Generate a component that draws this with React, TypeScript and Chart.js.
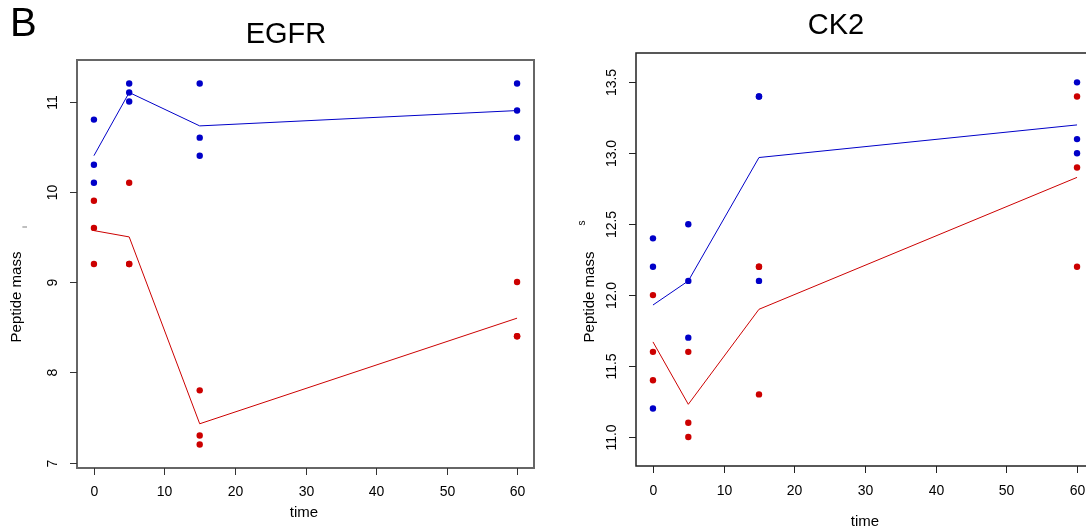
import React, { useEffect, useRef } from "react";
import { Chart, registerables } from "chart.js";

Chart.register(...registerables);

// ---------- data ----------
const timeCategories = [0, 5, 15, 60];
const replicateTimes = [0, 0, 0, 5, 5, 5, 15, 15, 15, 60, 60, 60];
const xTickValues = [0, 10, 20, 30, 40, 50, 60];

const egfrBlueValues = [10.8, 10.3, 10.1, 11.2, 11.1, 11.0, 11.2, 10.6, 10.4, 11.2, 10.9, 10.6];
const egfrRedValues = [9.9, 9.6, 9.2, 10.1, 9.2, 9.2, 7.8, 7.3, 7.2, 9.0, 8.4, 8.4];
const egfrBlueMeans = [10.4, 11.1, 10.73, 10.9];
const egfrRedMeans = [9.57, 9.5, 7.43, 8.6];
const egfrYTicks = [7, 8, 9, 10, 11];
const egfrYTickLabels = ["7", "8", "9", "10", "11"];

const ck2BlueValues = [12.4, 12.2, 11.2, 12.5, 12.1, 11.7, 13.4, 13.4, 12.1, 13.5, 13.1, 13.0];
const ck2RedValues = [12.0, 11.6, 11.4, 11.6, 11.1, 11.0, 12.2, 12.2, 11.3, 13.4, 12.9, 12.2];
const ck2BlueMeans = [11.93, 12.1, 12.97, 13.2];
const ck2RedMeans = [11.67, 11.23, 11.9, 12.83];
const ck2YTicks = [11.0, 11.5, 12.0, 12.5, 13.0, 13.5];
const ck2YTickLabels = ["11.0", "11.5", "12.0", "12.5", "13.0", "13.5"];

const BLUE = "#0000c8";
const RED = "#cc0000";
const FONT = '"Liberation Sans", Arial, Helvetica, sans-serif';

const rPlotPlugin = {
  id: "rPlot",
  afterDraw(chart: any, _args: any, opts: any) {
    const ctx = chart.ctx as CanvasRenderingContext2D;
    const area = chart.chartArea;
    const xs = chart.scales.x;
    const ys = chart.scales.y;
    ctx.save();
    // frame
    ctx.strokeStyle = opts.frameColor;
    ctx.lineWidth = opts.frameWidth;
    ctx.strokeRect(area.left, area.top, area.right - area.left, area.bottom - area.top);
    // ticks
    ctx.lineWidth = 1;
    ctx.strokeStyle = opts.tickColor;
    ctx.fillStyle = "#000";
    ctx.font = `14px ${FONT}`;
    ctx.textAlign = "center";
    ctx.textBaseline = "middle";
    opts.xTicks.forEach((v: number) => {
      const px = Math.round(xs.getPixelForValue(v)) + 0.5;
      ctx.beginPath();
      ctx.moveTo(px, area.bottom);
      ctx.lineTo(px, area.bottom + 7);
      ctx.stroke();
      ctx.fillText(String(v), px, area.bottom + opts.xLabelOffset);
    });
    opts.yTicks.forEach((v: number, i: number) => {
      const py = Math.round(ys.getPixelForValue(v)) + 0.5;
      ctx.beginPath();
      ctx.moveTo(area.left, py);
      ctx.lineTo(area.left - 7, py);
      ctx.stroke();
      ctx.save();
      ctx.translate(area.left - 24, py);
      ctx.rotate(-Math.PI / 2);
      ctx.fillText(opts.yLabels[i], 0, 0);
      ctx.restore();
    });
    // titles
    ctx.font = `29px ${FONT}`;
    ctx.fillText(opts.title, opts.titleX, opts.titleY);
    ctx.font = `15px ${FONT}`;
    ctx.fillText("time", opts.xTitleX, opts.xTitleY);
    ctx.save();
    ctx.translate(opts.yTitleX, opts.yTitleY);
    ctx.rotate(-Math.PI / 2);
    ctx.fillText("Peptide mass", 0, 0);
    ctx.restore();
    if (opts.mark) {
      ctx.save();
      ctx.font = `${opts.mark.size}px ${FONT}`;
      ctx.translate(opts.mark.x, opts.mark.y);
      ctx.rotate(-Math.PI / 2);
      ctx.fillText(opts.mark.text, 0, 0);
      ctx.restore();
    }
    ctx.restore();
  },
};

function makeConfig(
  blue: number[],
  red: number[],
  blueMeans: number[],
  redMeans: number[],
  yMin: number,
  yMax: number,
  padding: any,
  deco: any
): any {
  const pts = (vals: number[]) => vals.map((v, i) => ({ x: replicateTimes[i], y: v }));
  const line = (vals: number[]) => vals.map((v, i) => ({ x: timeCategories[i], y: v }));
  return {
    type: "scatter",
    data: {
      datasets: [
        { data: line(blueMeans), showLine: true, borderColor: BLUE, borderWidth: 1, pointRadius: 0, tension: 0 },
        { data: line(redMeans), showLine: true, borderColor: RED, borderWidth: 1, pointRadius: 0, tension: 0 },
        { data: pts(blue), pointRadius: 3.2, backgroundColor: BLUE, borderWidth: 0 },
        { data: pts(red), pointRadius: 3.2, backgroundColor: RED, borderWidth: 0 },
      ],
    },
    options: {
      responsive: false,
      animation: false,
      layout: { padding },
      scales: {
        x: { type: "linear", min: -2.4, max: 62.4, display: false },
        y: { type: "linear", min: yMin, max: yMax, display: false },
      },
      plugins: {
        legend: { display: false },
        tooltip: { enabled: false },
        rPlot: deco,
      },
    },
    plugins: [rPlotPlugin],
  };
}

function ChartCanvas({ config, left }: { config: any; left: number }) {
  const ref = useRef<HTMLCanvasElement>(null);
  useEffect(() => {
    const chart = new Chart(ref.current as HTMLCanvasElement, config);
    return () => chart.destroy();
  }, []);
  return (
    <canvas
      ref={ref}
      width={560}
      height={529}
      style={{ position: "absolute", left, top: 0, width: 560, height: 529 }}
    />
  );
}

export default function App() {
  const egfr = makeConfig(
    egfrBlueValues,
    egfrRedValues,
    egfrBlueMeans,
    egfrRedMeans,
    6.94,
    11.46,
    { left: 77, top: 60, right: 26, bottom: 61 },
    {
      title: "EGFR",
      titleX: 286,
      titleY: 35,
      xTitleX: 304,
      xTitleY: 513,
      yTitleX: 16.5,
      yTitleY: 297,
      xTicks: xTickValues,
      yTicks: egfrYTicks,
      yLabels: egfrYTickLabels,
      xLabelOffset: 24,
      frameColor: "#666",
      frameWidth: 2,
      tickColor: "#333",
      mark: { text: "i", x: 25, y: 227, size: 7 },
    }
  );
  const ck2 = makeConfig(
    ck2BlueValues,
    ck2RedValues,
    ck2BlueMeans,
    ck2RedMeans,
    10.795,
    13.707,
    { left: 76, top: 53, right: 26, bottom: 63 },
    {
      title: "CK2",
      titleX: 276,
      titleY: 26,
      xTitleX: 305,
      xTitleY: 522,
      yTitleX: 30,
      yTitleY: 297,
      xTicks: xTickValues,
      yTicks: ck2YTicks,
      yLabels: ck2YTickLabels,
      xLabelOffset: 25,
      frameColor: "#222",
      frameWidth: 1.5,
      tickColor: "#222",
      mark: { text: "s", x: 22, y: 223, size: 10 },
    }
  );
  return (
    <div
      style={{
        position: "absolute",
        left: 0,
        top: 0,
        width: 1086,
        height: 529,
        overflow: "hidden",
        background: "#fff",
      }}
    >
      <ChartCanvas config={egfr} left={0} />
      <ChartCanvas config={ck2} left={560} />
      <div
        style={{
          position: "absolute",
          left: 10,
          top: -2,
          fontFamily: FONT,
          fontSize: 40,
          lineHeight: "48px",
          color: "#000",
        }}
      >
        B
      </div>
    </div>
  );
}
